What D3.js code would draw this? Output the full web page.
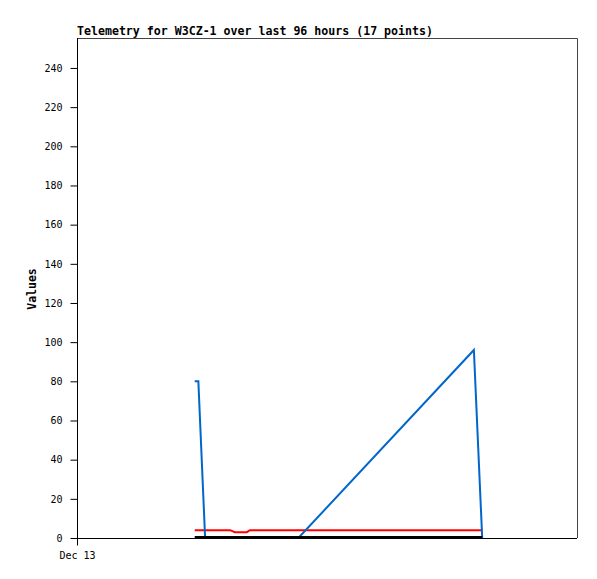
<!DOCTYPE html>
<html><head><meta charset="utf-8">
<script src="https://cdn.jsdelivr.net/npm/d3@7"></script>
<style>body{margin:0;background:#fff}svg{display:block}</style>
</head><body>
<svg id="c" width="597" height="579"></svg>
<script>
const title = "Telemetry for W3CZ-1 over last 96 hours (17 points)";
const yLabel = "Values";
const yTicks = [0,20,40,60,80,100,120,140,160,180,200,220,240];
const xTickLabels = ["Dec 13"];
// hours after Dec 13 00:00
const blueHours = [22.6, 23.3, 24.6, 42.5, 76.2, 77.8];
const blueValues = [80, 80, 0, 0, 96, 0];
const redHours = [22.6, 29.4, 30.3, 32.6, 33.2, 77.8];
const redValues = [4, 4, 3, 3, 4, 4];
const blackHours = [22.6, 77.8];
const blackValues = [0, 0];

const svg = d3.select("#c");
const L=77, T=38, R=577, B=538;
const t0 = new Date(2023,11,13,0,0,0);
const hr = h => new Date(t0.getTime()+h*3600e3);
const x = d3.scaleTime().domain([t0, hr(96)]).range([L,R]);
const y = d3.scaleLinear().domain([0,255.3]).range([B,T]);

// frame top/right
svg.append("path").attr("d",`M${L},${T+0.5}H${R+0.5}V${B}`).attr("fill","none").attr("stroke","#444").attr("stroke-width",1);

const mono = "'DejaVu Sans Mono', 'Liberation Mono', monospace";

// y axis
const ya = svg.append("g").attr("transform",`translate(${L+0.5},0)`)
  .call(d3.axisLeft(y).tickValues(yTicks).tickSize(7).tickPadding(8).tickSizeOuter(0));
ya.select(".domain").attr("stroke","#000").attr("d",`M0,${T}V${B+7}`);
ya.selectAll(".tick line").attr("stroke","#000");
ya.selectAll(".tick text").attr("font-family",mono).attr("font-size","10px").attr("fill","#000");

// x axis
const xa = svg.append("g").attr("transform",`translate(0,${B+0.5})`)
  .call(d3.axisBottom(x).tickValues([t0]).tickFormat((d,i)=>xTickLabels[i]).tickSize(7).tickPadding(6).tickSizeOuter(0));
xa.select(".domain").attr("stroke","#000").attr("d",`M${L},0H${R}`);
xa.selectAll(".tick line").attr("stroke","#000");
xa.selectAll(".tick text").attr("font-family",mono).attr("font-size","10px").attr("fill","#000");

const line = d3.line().x(d=>x(hr(d[0]))).y(d=>y(d[1]));
function series(hs, vs, color){
  svg.append("path").datum(hs.map((h,i)=>[h,vs[i]]))
    .attr("d",line).attr("fill","none").attr("stroke",color).attr("stroke-width",2)
    .attr("stroke-linejoin","miter");
}
series(redHours, redValues, "#ff0000");
series(blueHours, blueValues, "#0066cc");
svg.append("path").datum(blackHours.map((h,i)=>[h,blackValues[i]]))
  .attr("d",line).attr("transform","translate(0,-0.5)").attr("fill","none").attr("stroke","#000").attr("stroke-width",3);

svg.append("text").attr("x",L).attr("y",35).attr("font-family",mono).attr("font-weight","bold")
  .attr("font-size","11.6px").text(title);
svg.append("text").attr("transform","translate(36,289) rotate(-90)").attr("text-anchor","middle")
  .attr("font-family",mono).attr("font-weight","bold").attr("font-size","11.5px").text(yLabel);
</script>
</body></html>
